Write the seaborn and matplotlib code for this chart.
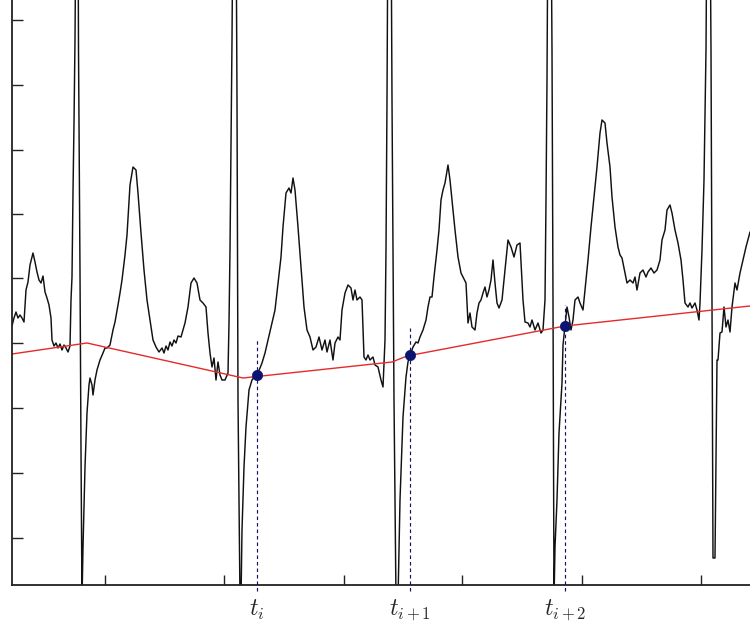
import numpy as np
import pandas as pd
import matplotlib
matplotlib.use("Agg")
import matplotlib.pyplot as plt
import seaborn as sns

# ---- ECG trace (time in samples, amplitude in arbitrary units) ----
seg_a_t = [12,14,16,18,20,22,24,26,28,30,33,35,37,39,41,43,45,47,49,51,52,54,56,58,60,62,64,66,68,70,71,72,73,74,75,76,78,78.5,80,81,82]
seg_a_v = [259,267,273,267,270,267,263,295,303,320,332,323,313,305,302,309,293,287,280,267,245,239,242,237,241,235,240,237,233,239,285,308,393,462,545,685,685,537,313,135,-15]

seg_b_t = [83,85,87,89,90,92,93,95,97,100,103,105,107,110,113,115,118,120,122,125,127,130,133,136,138,141,144,147,150,153,156,159,162,164,166,168,170,172,174,176,178,181,183,185,188,191,194,197,200,203,206,208,210,212,214,216,218,220,222,225,228,229,230,231,232,233,236,237,238,240]
seg_b_v = [38,118,172,200,207,200,190,205,215,225,232,237,237,240,255,263,280,292,305,330,350,400,418,415,392,352,315,285,265,245,238,233,237,232,239,235,243,239,245,242,249,248,255,262,278,302,307,302,285,282,278,252,232,218,227,205,223,210,205,205,212,262,335,435,545,685,685,485,185,-15]

seg_c_t = [241,242,244,246,249,252,255,257,260,262,265,268,272,275,278,281,283,286,289,291,293,295,298,301,304,307,310,313,316,319,322,325,327,330,333,335,338,340,342,345,348,351,353,355,357,360,362,364,366,368,370,373,375,378,381,383,385,386,387,388,391,392,394,396]
seg_c_v = [-15,55,118,158,195,205,209,210,217,222,232,245,262,275,302,328,358,392,397,392,407,395,358,318,278,255,248,235,238,248,235,245,233,245,225,242,248,245,275,292,300,297,285,295,285,288,285,228,225,230,225,228,220,218,205,198,245,335,485,685,685,485,185,-15]

seg_d_t = [398,400,403,406,408,410,413,416,418,420,423,426,428,430,432,434,437,439,441,443,445,448,450,452,455,458,461,463,466,468,470,472,475,477,479,481,483,485,487,489,491,493,495,497,499,502,505,508,511,514,517,520,523,525,528,530,532,535,538,541,543,545,546,547,548,551,552,553,554]
seg_d_v = [-15,85,168,208,223,230,238,243,242,248,255,265,278,288,288,308,335,355,385,395,402,420,405,385,355,328,312,308,302,262,272,258,255,272,282,285,292,298,288,295,305,325,302,282,277,285,315,345,338,328,340,342,285,263,262,258,265,255,262,252,255,285,385,505,685,685,535,285,-15]

seg_e_t = [555,557,559,562,563,565,567,569,571,573,575,578,580,583,585,588,591,594,597,600,602,605,607,610,612,615,618,620,622,625,627,630,633,635,637,640,643,646,648,651,654,657,660,662,665,667,670,672,675,678,681,683,685,688,690,692,695,697,699,700,702,704,706,707,710,711,712,713,715,717,718,720,722,724,726,728,730,732,735,737,740,743,746,750]
seg_e_v = [38,85,152,202,240,259,278,268,255,265,285,288,282,275,295,325,358,388,418,452,465,462,442,418,388,358,338,330,327,312,302,305,302,308,295,312,315,308,313,317,312,315,325,345,355,375,380,372,355,342,325,305,282,278,282,277,282,275,265,282,335,405,535,685,685,535,285,27,27,225,225,252,253,278,258,265,253,278,302,295,312,325,338,353]

# ---- baseline (red) ----
base_t = [12, 87, 243, 392, 407, 565, 750]
base_v = [231, 242, 207, 223, 229, 259, 279]

# ---- fiducial points ----
fid_t = [257, 410, 565]
fid_v = [210, 230, 259]
fid_top = [245, 257, 280]
fid_labels = [r"$t_i$", r"$t_{i+1}$", r"$t_{i+2}$"]

xticks = [105, 224, 344, 462, 582, 701]
yticks = [47, 112, 177, 242, 307, 371, 435, 500, 565]

ecg_t = seg_a_t + seg_b_t + seg_c_t + seg_d_t + seg_e_t
ecg_v = seg_a_v + seg_b_v + seg_c_v + seg_d_v + seg_e_v
ecg = pd.DataFrame({"t": ecg_t, "v": ecg_v})
base = pd.DataFrame({"t": base_t, "v": base_v})
fid = pd.DataFrame({"t": fid_t, "v": fid_v})

sns.set_style("ticks")
plt.rcParams["mathtext.fontset"] = "cm"

fig = plt.figure(figsize=(7.5, 6.24), dpi=100)
ax = fig.add_axes([12 / 750, 39 / 624, 738 / 750, 585 / 624])
ax.set_facecolor("white")

navy = "#0b1470"
dash_col = "#14145a"
sns.lineplot(data=ecg, x="t", y="v", ax=ax, color="#111111", lw=1.05,
             sort=False, estimator=None)
sns.lineplot(data=base, x="t", y="v", ax=ax, color="#e62a2a", lw=1.0,
             sort=False, estimator=None)
ax.vlines(fid_t, -6, fid_top, colors=dash_col, linestyles=(0, (3, 2.5)),
          lw=0.85, clip_on=False, zorder=4)
sns.scatterplot(data=fid, x="t", y="v", ax=ax, color=navy, s=55,
                edgecolor=navy, linewidth=0.5, zorder=5)

ax.set_xlim(12, 750)
ax.set_ylim(0, 585)
ax.set_xticks(xticks)
ax.set_xticklabels([])
ax.set_xticks(fid_t, minor=True)
ax.set_xticklabels(fid_labels, minor=True, fontsize=17)
ax.set_yticks(yticks)
ax.set_yticklabels([])
ax.tick_params(axis="x", which="major", direction="in", length=7, width=1, color="#222222")
ax.tick_params(axis="x", which="minor", length=0, pad=9)
ax.tick_params(axis="y", which="major", direction="in", length=8, width=1, color="#222222")
ax.set_xlabel("")
ax.set_ylabel("")
for s in ["top", "right"]:
    ax.spines[s].set_visible(False)
for s in ["left", "bottom"]:
    ax.spines[s].set_color("#222222")
    ax.spines[s].set_linewidth(1.3)

fig.savefig("out.png", dpi=100)
